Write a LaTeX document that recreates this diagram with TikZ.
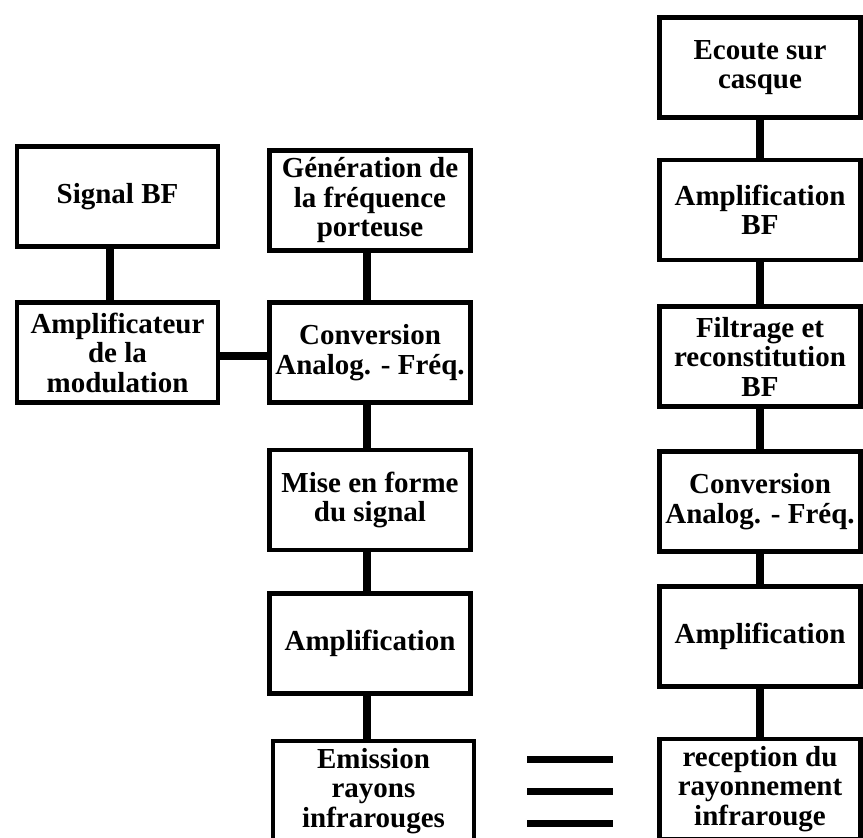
\documentclass[tikz,border=0pt]{standalone}
\usepackage{fontspec}
\setmainfont{Liberation Serif}
\begin{document}
\begin{tikzpicture}[x=1pt,y=-1pt,
  blk/.style={draw, line width=4.5pt, rectangle, inner sep=0pt,
    minimum width=201pt, minimum height=100pt, align=center,
    font=\fontsize{29}{29.5}\selectfont\bfseries},
  link/.style={line width=8pt},
  wave/.style={line width=7pt}]
\useasboundingbox (0,0) rectangle (863,838);
% left column
\node[blk] (sig)  at (117.5,196.5) {Signal BF};
\node[blk] (amod) at (117.5,352.5) {Amplificateur\\de la\\modulation};
% middle column
\node[blk] (gen)  at (370,200.5) {Génération de\\la fréquence\\porteuse};
\node[blk] (conv) at (370,352.5) {Conversion\\Analog. - Fréq.};
\node[blk] (mise) at (370,500)   {Mise en forme\\du signal};
\node[blk] (ampl) at (370,643.5) {Amplification};
\node[blk] (emis) at (373.5,791) {Emission\\rayons\\infrarouges};
% right column
\node[blk] (ecou)  at (760,67.5)  {Ecoute sur\\casque};
\node[blk] (ampbf) at (760,210)   {Amplification\\BF};
\node[blk] (filt)  at (760,356.5) {Filtrage et\\reconstitution\\BF};
\node[blk] (conv2) at (760,501.5) {Conversion\\Analog. - Fréq.};
\node[blk] (ampl2) at (760,636.5) {Amplification};
\node[blk] (recep) at (760,789)   {reception du\\rayonnement\\infrarouge};
% connectors
\draw[link] ([xshift=-7.5pt]sig.south) -- ([xshift=-7.5pt]amod.north);
\draw[link] ([yshift=-3.5pt]amod.east) -- ([yshift=-3.5pt]conv.west);
\draw[link] ([xshift=-3pt]gen.south) -- ([xshift=-3pt]conv.north);
\draw[link] ([xshift=-3pt]conv.south) -- ([xshift=-3pt]mise.north);
\draw[link] ([xshift=-3pt]mise.south) -- ([xshift=-3pt]ampl.north);
\draw[link] ([xshift=-3pt]ampl.south) -- ([xshift=-6.5pt]emis.north);
\draw[link] (ecou.south) -- (ampbf.north);
\draw[link] (ampbf.south) -- (filt.north);
\draw[link] (filt.south) -- (conv2.north);
\draw[link] (conv2.south) -- (ampl2.north);
\draw[link] (ampl2.south) -- (recep.north);
% infrared link
\coordinate (w1a) at (527,759); \coordinate (w1b) at (613,759);
\coordinate (w2a) at (527,791); \coordinate (w2b) at (613,791);
\coordinate (w3a) at (527,823); \coordinate (w3b) at (613,823);
\draw[wave] (w1a) -- (w1b);
\draw[wave] (w2a) -- (w2b);
\draw[wave] (w3a) -- (w3b);
\end{tikzpicture}
\end{document}
